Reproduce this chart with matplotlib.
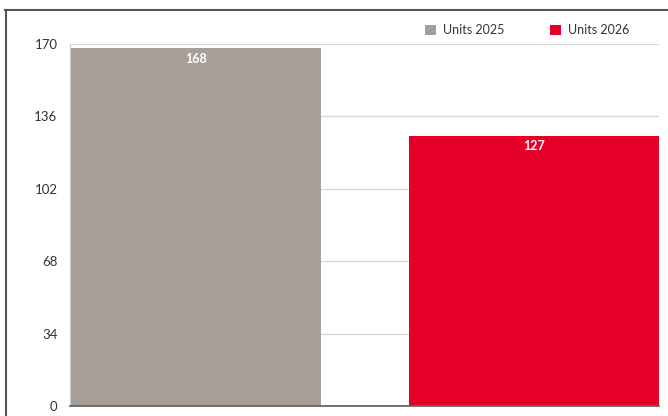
import matplotlib
matplotlib.use('Agg')
import matplotlib.pyplot as plt
from matplotlib.lines import Line2D

matplotlib.rcParams['font.family'] = ['Lato', 'DejaVu Sans']

# 数据
series = ['Units 2025', 'Units 2026']
values = [168, 127]
colors = ['#a69e97', '#e60028']
yticks = [0, 34, 68, 102, 136, 170]

fig = plt.figure(figsize=(6.68, 4.16), dpi=100)
ax = fig.add_axes([70/668, 10/416, 589/668, 362/416])

for i in range(len(series)):
    ax.bar(i, values[i], width=0.74, color=colors[i], label=series[i], zorder=3)
    ax.text(i, values[i] - 2.2, str(values[i]), ha='center', va='top',
            color='white', fontsize=9, fontweight='bold', zorder=4)

ax.set_xlim(-0.373, 1.37)
ax.set_ylim(0, 170)
ax.set_yticks(yticks)
ax.set_xticks([])
ax.tick_params(axis='y', length=0, pad=9, labelsize=9.5, labelcolor='#333333')
ax.grid(axis='y', color='#d9d9cf', linewidth=1, zorder=0)

for s in ['top', 'right']:
    ax.spines[s].set_visible(False)
ax.spines['left'].set_color('#cccccc')
ax.spines['bottom'].set_color('#666666')
ax.spines['bottom'].set_linewidth(1.3)
ax.spines['bottom'].set_zorder(5)

leg = fig.legend(loc='center right', bbox_to_anchor=(629/668, 1 - 30/416), ncol=2,
                 frameon=False, fontsize=9, handlelength=0.9, handleheight=0.9,
                 handletextpad=0.55, columnspacing=3.6, borderpad=0, borderaxespad=0)
for t in leg.get_texts():
    t.set_color('#333333')

# 外框
fig.add_artist(Line2D([5/668, 1], [1 - 9.5/416, 1 - 9.5/416], transform=fig.transFigure,
                      color='#555555', linewidth=1.5))
fig.add_artist(Line2D([5.5/668, 5.5/668], [0, 1 - 9.5/416], transform=fig.transFigure,
                      color='#555555', linewidth=1.5))

fig.savefig('out.png', dpi=100)
